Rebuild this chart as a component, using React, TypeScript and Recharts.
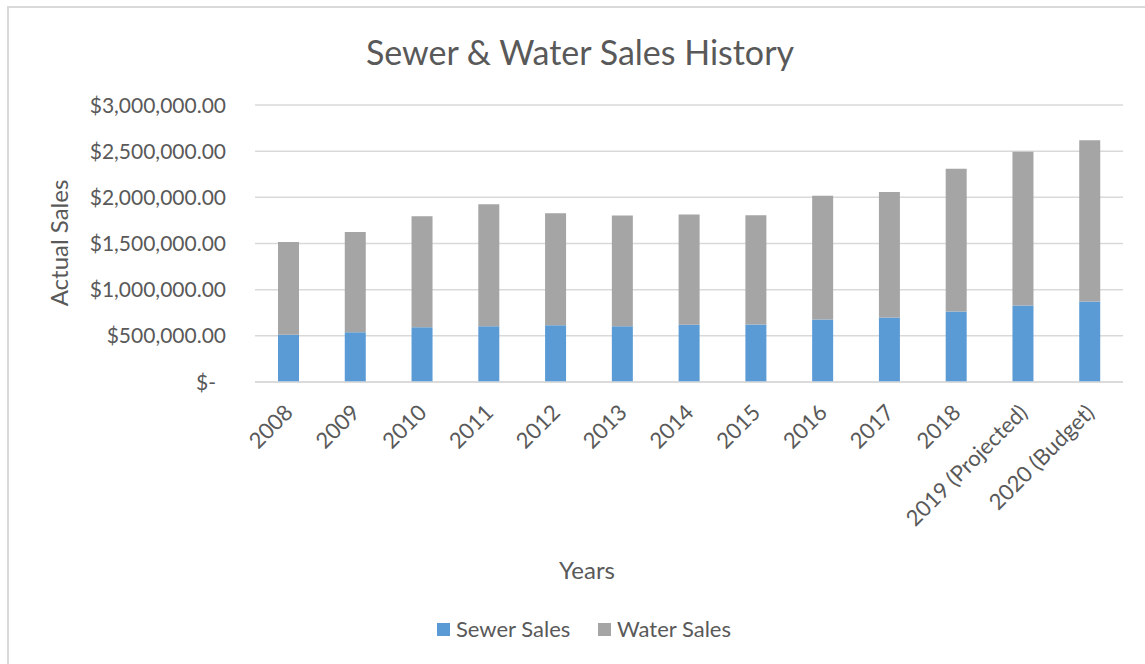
import React from 'react';
import { BarChart, Bar, XAxis, YAxis, CartesianGrid } from 'recharts';

const categories = ['2008', '2009', '2010', '2011', '2012', '2013', '2014', '2015', '2016', '2017', '2018', '2019 (Projected)', '2020 (Budget)'];
const sewerSales = [513000, 539000, 593000, 604000, 615000, 604000, 620000, 622000, 677000, 698000, 764000, 829000, 872000];
const waterSales = [1002000, 1085000, 1202000, 1321000, 1213000, 1198000, 1195000, 1183000, 1340000, 1359000, 1546000, 1666000, 1746000];
const yTicks = [0, 500000, 1000000, 1500000, 2000000, 2500000, 3000000];

const data = categories.map((c, i) => ({ year: c, sewer: sewerSales[i], water: waterSales[i] }));

const FONT = 'Lato, "Open Sans", sans-serif';
const TXT = '#595959';
const SEWER = '#5B9BD5';
const WATER = '#A5A5A5';

const fmt = (v: number) =>
  v === 0 ? '$-' : '$' + v.toLocaleString('en-US', { minimumFractionDigits: 2, maximumFractionDigits: 2 });

const YTick = (props: any) => {
  const { x, y, payload } = props;
  const shift = payload.value === 0 ? -10 : 0;
  return (
    <text x={x + shift} y={y} dy="0.36em" textAnchor="end" fill={TXT} fontSize={21} fontFamily={FONT}>
      {fmt(payload.value)}
    </text>
  );
};

const XTick = (props: any) => {
  const { x, y, payload } = props;
  const ax = x + 6;
  const ay = y + 24;
  return (
    <text x={ax} y={ay} textAnchor="end" fill={TXT} fontSize={22} fontFamily={FONT} transform={`rotate(-45, ${ax}, ${ay})`}>
      {payload.value}
    </text>
  );
};

export default function App() {
  return (
    <div style={{ position: 'absolute', left: 0, top: 0, width: 1145, height: 664, background: '#fff' }}>
      <div style={{ position: 'absolute', left: 7, top: 6, width: 1145, height: 664, borderTop: '2px solid #d9d9d9', borderLeft: '2px solid #d9d9d9', boxSizing: 'border-box' }} />
      <div style={{ position: 'absolute', left: 0, top: 0 }}>
        <BarChart width={1145} height={664} data={data} margin={{ top: 105, right: 22, left: 0, bottom: 0 }}>
          <CartesianGrid horizontal vertical={false} stroke="#d9d9d9" strokeWidth={1.5} />
          <XAxis
            dataKey="year"
            height={282}
            interval={0}
            tickLine={false}
            axisLine={{ stroke: '#d9d9d9', strokeWidth: 1.5 }}
            tick={<XTick />}
          />
          <YAxis
            width={255}
            domain={[0, 3000000]}
            ticks={yTicks}
            interval={0}
            tickLine={false}
            axisLine={false}
            tickSize={6}
            tickMargin={23}
            tick={<YTick />}
          />
          <Bar dataKey="sewer" stackId="a" fill={SEWER} barSize={21} isAnimationActive={false} />
          <Bar dataKey="water" stackId="a" fill={WATER} barSize={21} isAnimationActive={false} />
        </BarChart>
      </div>
      <svg width={1145} height={664} style={{ position: 'absolute', left: 0, top: 0, pointerEvents: 'none' }}>
        <text x={580} y={65} textAnchor="middle" fill={TXT} fontSize={34} fontFamily={FONT}>
          Sewer &amp; Water Sales History
        </text>
        <text x={68} y={243} textAnchor="middle" fill={TXT} fontSize={24} fontFamily={FONT} transform="rotate(-90, 68, 243)">
          Actual Sales
        </text>
        <text x={587} y={579} textAnchor="middle" fill={TXT} fontSize={24} fontFamily={FONT}>
          Years
        </text>
        <rect x={437} y={623} width={13} height={13} fill={SEWER} />
        <text x={456} y={637} fill={TXT} fontSize={22} fontFamily={FONT}>Sewer Sales</text>
        <rect x={598} y={623} width={13} height={13} fill={WATER} />
        <text x={617} y={637} fill={TXT} fontSize={22} fontFamily={FONT}>Water Sales</text>
      </svg>
    </div>
  );
}
